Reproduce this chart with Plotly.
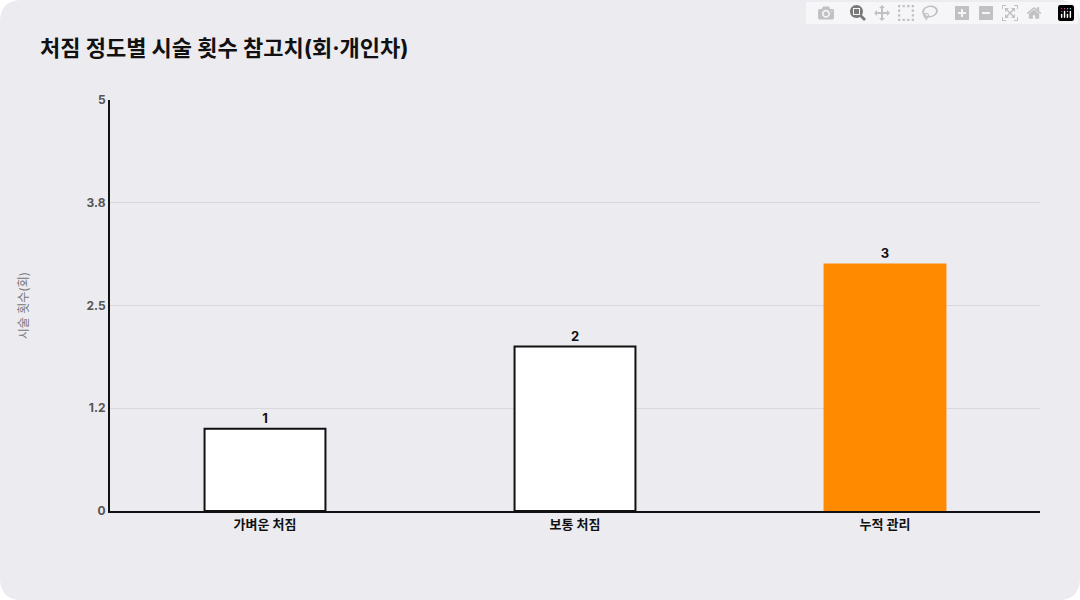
import plotly.graph_objects as go

categories = ["가벼운 처짐", "보통 처짐", "누적 관리"]
values = [1, 2, 3]
colors = ["#FFFFFF", "#FFFFFF", "#FF8A00"]
line_colors = ["#111111", "#111111", "#FF8A00"]
tick_vals = [0, 1.25, 2.5, 3.75, 5]
tick_text = ["<b>0</b>", "<b>1.2</b>", "<b>2.5</b>", "<b>3.8</b>", "<b>5</b>"]

W, H = 1080, 600
L, R, T, B = 110, 40, 100, 89
pw, ph = W - L - R, H - T - B

def px(x): return (x - L) / pw
def py(y): return (H - B - y) / ph

r = 22
x0, x1, y0, y1 = 0, 1080, 0, 600
path = (f"M {px(x0+r)},{py(y0)} L {px(x1-r)},{py(y0)} "
        f"Q {px(x1)},{py(y0)} {px(x1)},{py(y0+r)} L {px(x1)},{py(y1-r)} "
        f"Q {px(x1)},{py(y1)} {px(x1-r)},{py(y1)} L {px(x0+r)},{py(y1)} "
        f"Q {px(x0)},{py(y1)} {px(x0)},{py(y1-r)} L {px(x0)},{py(y0+r)} "
        f"Q {px(x0)},{py(y0)} {px(x0+r)},{py(y0)} Z")

fig = go.Figure(go.Bar(
    x=categories, y=values, width=0.39,
    marker=dict(color=colors, line=dict(color=line_colors, width=2)),
    text=[f"<b>{v}</b>" for v in values], textposition="outside",
    textfont=dict(size=13, color="#111", family="Inter, Noto Sans CJK KR"),
    cliponaxis=False,
))
fig.update_layout(
    width=W, height=H, margin=dict(l=L, r=R, t=T, b=B),
    paper_bgcolor="#FFFFFF", plot_bgcolor="#ECEBF0",
    font=dict(family="Inter, Noto Sans CJK KR", color="#333"),
    title=dict(text="<b>처짐 정도별 시술 횟수 참고치(회·개인차)</b>", x=40/W, xref="container",
               xanchor="left", y=1 - 48/H, yanchor="middle",
               font=dict(size=22, color="#111")),
    shapes=[dict(type="path", path=path, xref="paper", yref="paper",
                 fillcolor="#ECEBF0", line=dict(width=0), layer="below")],
    showlegend=False,
)
fig.update_yaxes(range=[0, 5], tickvals=tick_vals, ticktext=tick_text,
                 gridcolor="#D8D7DD", showline=True, linecolor="#111", linewidth=2,
                 zeroline=False, tickfont=dict(size=12, color="#555"), ticklen=0,
                 title=dict(text="시술 횟수(회)", font=dict(size=12, color="#777"), standoff=55))
fig.update_xaxes(showline=True, linecolor="#111", linewidth=2,
                 tickfont=dict(size=13, color="#111"),
                 tickvals=categories, ticktext=[f"<b>{c}</b>" for c in categories])
fig.write_html("out.html")

with open("out.html", encoding="utf-8") as f:
    html = f.read()
html = html.replace("<head>", "<head><style>html,body{margin:0;padding:0;overflow:hidden;}</style>", 1)
with open("out.html", "w", encoding="utf-8") as f:
    f.write(html)
